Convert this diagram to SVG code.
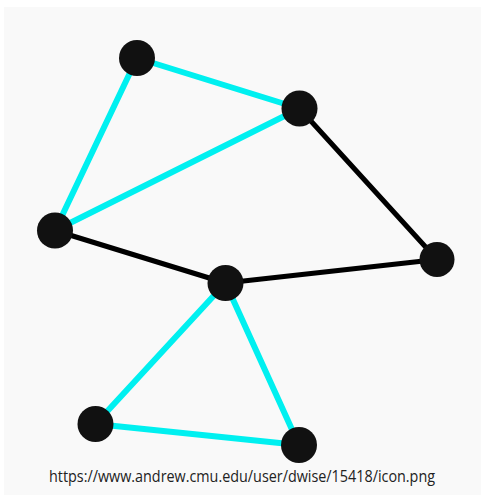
<svg xmlns="http://www.w3.org/2000/svg" width="483" height="499" viewBox="0 0 483 499">
<style>
.cy{stroke:#00f0f0;stroke-width:6;stroke-linecap:round}
.bk{stroke:#000;stroke-width:5;stroke-linecap:round}
.nd{fill:#111}
.lbl{font-family:"Open Sans","Liberation Sans",sans-serif;font-size:16px;fill:#222}
</style>
<rect x="0" y="0" width="483" height="499" fill="#fff"/>
<rect x="4" y="7" width="477" height="488" fill="#f9f9f9"/>
<g id="edges">
<line class="cy" x1="137" y1="58" x2="299.5" y2="108.5"/>
<line class="cy" x1="137" y1="58" x2="55" y2="230.5"/>
<line class="cy" x1="299.5" y1="108.5" x2="55" y2="230.5"/>
<line class="bk" x1="299.5" y1="108.5" x2="437" y2="259.5"/>
<line class="bk" x1="55" y1="230.5" x2="225.5" y2="283"/>
<line class="bk" x1="225.5" y1="283" x2="437" y2="259.5"/>
<line class="cy" x1="225.5" y1="283" x2="95.5" y2="424"/>
<line class="cy" x1="225.5" y1="283" x2="299" y2="445"/>
<line class="cy" x1="95.5" y1="424" x2="299" y2="445"/>
</g>
<g id="nA"><circle class="nd" cx="137" cy="58" r="18"/></g>
<g id="nB"><circle class="nd" cx="299.5" cy="108.5" r="18"/></g>
<g id="nC"><circle class="nd" cx="55" cy="230.5" r="18"/></g>
<g id="nD"><circle class="nd" cx="225.5" cy="283" r="18"/></g>
<g id="nE"><circle class="nd" cx="437" cy="259.5" r="17.5"/></g>
<g id="nF"><circle class="nd" cx="95.5" cy="424" r="18"/></g>
<g id="nG"><circle class="nd" cx="299" cy="445" r="18"/></g>
<text class="lbl" x="49" y="482" textLength="386" lengthAdjust="spacingAndGlyphs">https://www.andrew.cmu.edu/user/dwise/15418/icon.png</text>
</svg>
